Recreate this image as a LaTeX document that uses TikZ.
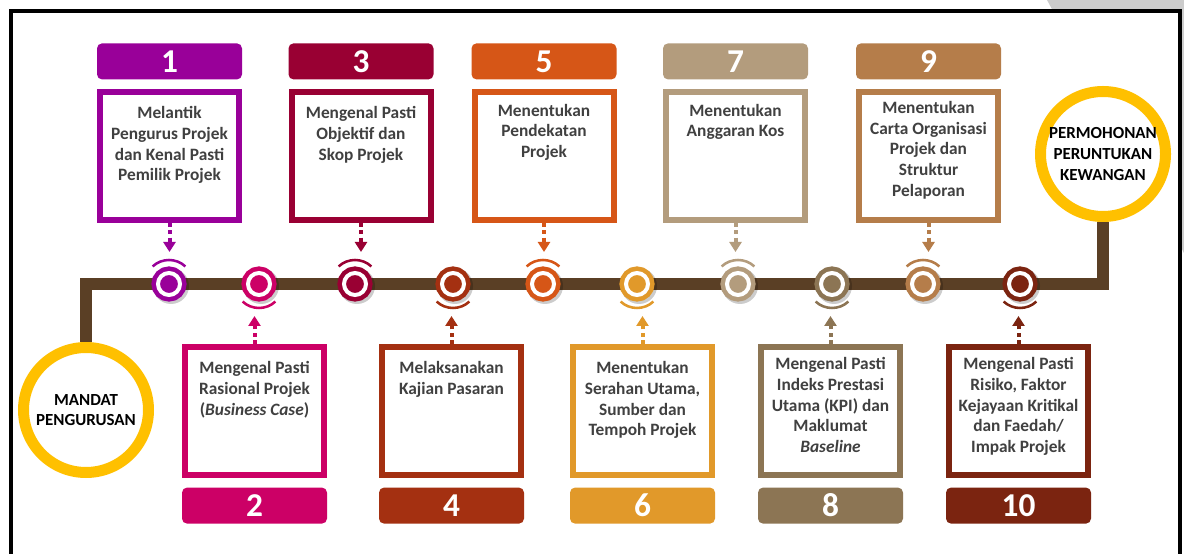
\documentclass[tikz,border=0pt]{standalone}
\usepackage{fontspec}
\setmainfont{Carlito}
\usetikzlibrary{positioning,arrows.meta}
\definecolor{col1}{HTML}{990099}
\definecolor{col2}{HTML}{CC0066}
\definecolor{col3}{HTML}{990033}
\definecolor{col4}{HTML}{A43011}
\definecolor{col5}{HTML}{D65617}
\definecolor{col6}{HTML}{E1992A}
\definecolor{col7}{HTML}{B39C7D}
\definecolor{col8}{HTML}{8C7554}
\definecolor{col9}{HTML}{B57D4A}
\definecolor{col10}{HTML}{7B2410}
\definecolor{txtgray}{HTML}{404040}
\definecolor{trackbrown}{HTML}{5A3F25}
\definecolor{ringyellow}{HTML}{FFC000}

\begin{document}
\begin{tikzpicture}[
			x=0.75pt, y=0.75pt,
			stepbox/.style={draw=#1, line width=4.5pt, fill=white, minimum width=104.25pt, minimum height=96pt, inner sep=0pt},
			steptab/.style={fill=#1, rounded corners=3.75pt, minimum width=108.75pt, minimum height=27pt, inner sep=0pt, text=white, font=\bfseries\fontsize{25}{25}\selectfont},
			steptext/.style={text=txtgray, align=center, inner sep=0pt, font=\bfseries\fontsize{13}{15.5}\selectfont},
			stepdot/.style={circle, fill=#1, draw=#1, double=white, double distance=3pt, line width=3.4pt, minimum size=16.5pt, inner sep=0pt},
			stephalo/.style={draw=#1, line width=1.9pt},
			stepflow/.style={draw=#1, line width=3pt, dash pattern=on 3pt off 2.5pt, -{Triangle[length=7.5pt,width=9pt]}},
			track/.style={draw=trackbrown, line width=9pt},
			goal/.style={circle, draw=ringyellow, line width=8.25pt, fill=white, minimum size=93.75pt, inner sep=0pt, align=center, font=\bfseries\fontsize{12.7}{15.5}\selectfont}
			]
			\useasboundingbox (0,0) rectangle (1184,553);
			\clip (0,0) rectangle (1184,553);
			% page corner and frame
			\fill[black!20] (1047,553) -- (1184,553) -- (1184,300) -- cycle;
			\draw[line width=3.4pt, fill=white] (11,-20) rectangle (1180,542);
			% start and end
			\node[goal] (c1) at (86,143) {MANDAT\\PENGURUSAN};
			\node[goal] (c2) at (1103,399) {PERMOHONAN\\PERUNTUKAN\\KEWANGAN};
			\coordinate (axis) at (0,269);
			\draw[track] (c1.north) |- (axis -| c2.south) -- (c2.south);
			% steps above the line
			\node[stepbox=col1] (b1) at (169.5,397) {};
			\node[steptab=col1, above=7pt of b1] (n1) {1};
			\node[steptext, below=13pt of b1.north] (t1) {Melantik\\Pengurus Projek\\dan Kenal Pasti\\Pemilik Projek};
			\node[stepbox=col3] (b3) at (361,397) {};
			\node[steptab=col3, above=7pt of b3] (n3) {3};
			\node[steptext, below=13pt of b3.north] (t3) {Mengenal Pasti\\Objektif dan\\Skop Projek};
			\node[stepbox=col5] (b5) at (544,397) {};
			\node[steptab=col5, above=7pt of b5] (n5) {5};
			\node[steptext, below=11pt of b5.north] (t5) {Menentukan\\Pendekatan\\Projek};
			\node[stepbox=col7] (b7) at (735.5,397) {};
			\node[steptab=col7, above=7pt of b7] (n7) {7};
			\node[steptext, below=11pt of b7.north] (t7) {Menentukan\\Anggaran Kos};
			\node[stepbox=col9] (b9) at (928.5,397) {};
			\node[steptab=col9, above=7pt of b9] (n9) {9};
			\node[steptext, below=9pt of b9.north] (t9) {Menentukan\\Carta Organisasi\\Projek dan\\Struktur\\Pelaporan};
			% steps below the line
			\node[stepbox=col2] (b2) at (254.5,142) {};
			\node[steptab=col2, below=7pt of b2] (n2) {2};
			\node[steptext, below=13pt of b2.north] (t2) {Mengenal Pasti\\Rasional Projek\\(\textit{Business Case})};
			\node[stepbox=col4] (b4) at (451.5,142) {};
			\node[steptab=col4, below=7pt of b4] (n4) {4};
			\node[steptext, below=13pt of b4.north] (t4) {Melaksanakan\\Kajian Pasaran};
			\node[stepbox=col6] (b6) at (642.5,142) {};
			\node[steptab=col6, below=7pt of b6] (n6) {6};
			\node[steptext, below=13pt of b6.north] (t6) {Menentukan\\Serahan Utama,\\Sumber dan\\Tempoh Projek};
			\node[stepbox=col8] (b8) at (830.5,142) {};
			\node[steptab=col8, below=7pt of b8] (n8) {8};
			\node[steptext, below=10pt of b8.north] (t8) {Mengenal Pasti\\Indeks Prestasi\\Utama (KPI) dan\\Maklumat\\\textit{Baseline}};
			\node[stepbox=col10] (b10) at (1018.5,142) {};
			\node[steptab=col10, below=7pt of b10] (n10) {10};
			\node[steptext, below=10pt of b10.north] (t10) {Mengenal Pasti\\Risiko, Faktor\\Kejayaan Kritikal\\dan Faedah/\\Impak Projek};
			% markers on the line
			\foreach \i/\x in {1/169, 3/355, 5/543, 7/738, 9/923}{
				\coordinate (tip\i) at (b\i.south |- 0,301);
				\draw[stepflow=col\i] (b\i.south) -- (tip\i);
				\fill[black, opacity=0.2] (\x+2,267) circle[radius=18];
				\node[stepdot=col\i] (m\i) at (\x,269) {};
				\draw[stephalo=col\i] ([shift={(47:24)}]m\i.center) arc[start angle=47, end angle=133, radius=24];
			}
			\foreach \i/\x in {2/259, 4/453, 6/637, 8/832, 10/1020}{
				\coordinate (tip\i) at (b\i.north |- 0,237);
				\draw[stepflow=col\i] (b\i.north) -- (tip\i);
				\fill[black, opacity=0.2] (\x+2,267) circle[radius=18];
				\node[stepdot=col\i] (m\i) at (\x,269) {};
				\draw[stephalo=col\i] ([shift={(227:24)}]m\i.center) arc[start angle=227, end angle=313, radius=24];
			}
		\end{tikzpicture}
\end{document}
